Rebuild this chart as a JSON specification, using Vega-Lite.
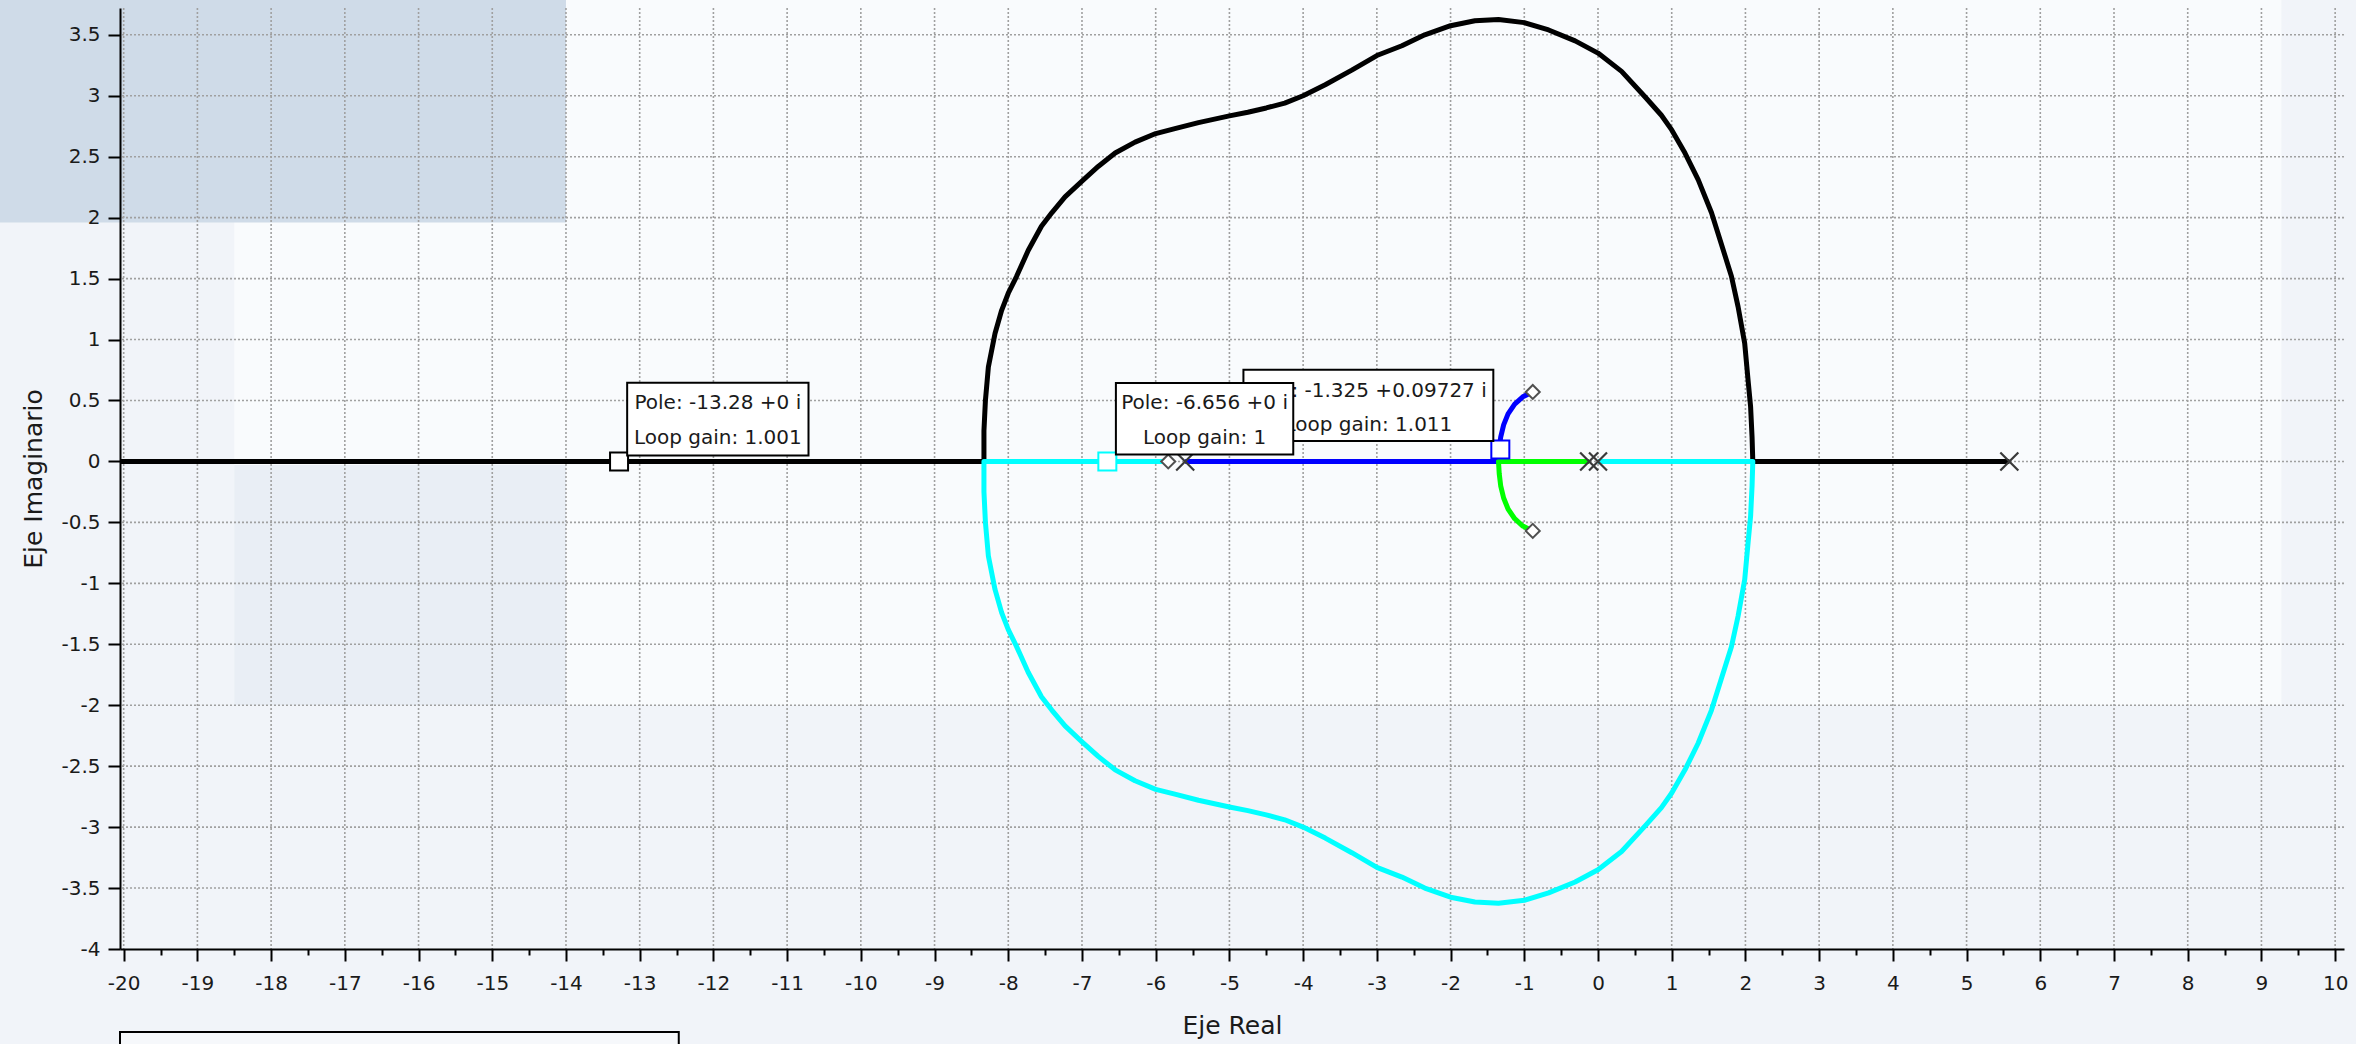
{
  "$schema": "https://vega.github.io/schema/vega-lite/v6.json",
  "width": 2224,
  "height": 941,
  "autosize": {"type": "none"},
  "padding": {"left": 120, "top": 8, "right": 12, "bottom": 95},
  "background": "#f1f4f9",
  "config": {"view": {"stroke": null, "fill": null}},
  "datasets": {
    "bg": [
      {"zone": "light", "x1": -18.5, "x2": 9.27, "y1": -2.0, "y2": 3.9},
      {"zone": "dark", "x1": -21.8, "x2": -14.0, "y1": 1.96, "y2": 3.9},
      {"zone": "mid", "x1": -18.5, "x2": -14.0, "y1": -2.0, "y2": -0.03}
    ],
    "gx": [{"v":-20},{"v":-19},{"v":-18},{"v":-17},{"v":-16},{"v":-15},{"v":-14},{"v":-13},{"v":-12},{"v":-11},{"v":-10},{"v":-9},{"v":-8},{"v":-7},{"v":-6},{"v":-5},{"v":-4},{"v":-3},{"v":-2},{"v":-1},{"v":0},{"v":1},{"v":2},{"v":3},{"v":4},{"v":5},{"v":6},{"v":7},{"v":8},{"v":9},{"v":10}],
    "gy": [{"v":-3.5},{"v":-3},{"v":-2.5},{"v":-2},{"v":-1.5},{"v":-1},{"v":-0.5},{"v":0},{"v":0.5},{"v":1},{"v":1.5},{"v":2},{"v":2.5},{"v":3},{"v":3.5}],
    "legendbox": [{"x1": -20.05, "x2": -12.47, "y1": -4.68, "y2": -5.3}],
    "locus": [
      {"br":"black","i":0,"x":5.58,"y":0},
      {"br":"black","i":1,"x":2.1,"y":0},
      {"br":"black","i":2,"x":2.09,"y":0.2},
      {"br":"black","i":3,"x":2.07,"y":0.45},
      {"br":"black","i":4,"x":2.04,"y":0.64},
      {"br":"black","i":5,"x":1.99,"y":0.97},
      {"br":"black","i":6,"x":1.9,"y":1.27},
      {"br":"black","i":7,"x":1.81,"y":1.52},
      {"br":"black","i":8,"x":1.67,"y":1.79},
      {"br":"black","i":9,"x":1.54,"y":2.04},
      {"br":"black","i":10,"x":1.36,"y":2.31},
      {"br":"black","i":11,"x":1.18,"y":2.53},
      {"br":"black","i":12,"x":1.0,"y":2.72},
      {"br":"black","i":13,"x":0.86,"y":2.84},
      {"br":"black","i":14,"x":0.64,"y":2.99},
      {"br":"black","i":15,"x":0.32,"y":3.2},
      {"br":"black","i":16,"x":0.0,"y":3.35},
      {"br":"black","i":17,"x":-0.31,"y":3.45},
      {"br":"black","i":18,"x":-0.67,"y":3.54},
      {"br":"black","i":19,"x":-1.0,"y":3.6},
      {"br":"black","i":20,"x":-1.35,"y":3.625},
      {"br":"black","i":21,"x":-1.67,"y":3.615},
      {"br":"black","i":22,"x":-2.0,"y":3.575},
      {"br":"black","i":23,"x":-2.35,"y":3.5},
      {"br":"black","i":24,"x":-2.66,"y":3.41},
      {"br":"black","i":25,"x":-3.0,"y":3.33},
      {"br":"black","i":26,"x":-3.34,"y":3.21},
      {"br":"black","i":27,"x":-3.7,"y":3.09},
      {"br":"black","i":28,"x":-4.0,"y":3.0},
      {"br":"black","i":29,"x":-4.25,"y":2.94},
      {"br":"black","i":30,"x":-4.5,"y":2.9},
      {"br":"black","i":31,"x":-4.75,"y":2.865},
      {"br":"black","i":32,"x":-5.0,"y":2.835},
      {"br":"black","i":33,"x":-5.42,"y":2.78},
      {"br":"black","i":34,"x":-5.74,"y":2.73},
      {"br":"black","i":35,"x":-6.0,"y":2.69},
      {"br":"black","i":36,"x":-6.28,"y":2.62},
      {"br":"black","i":37,"x":-6.55,"y":2.53},
      {"br":"black","i":38,"x":-6.78,"y":2.42},
      {"br":"black","i":39,"x":-7.0,"y":2.3},
      {"br":"black","i":40,"x":-7.23,"y":2.17},
      {"br":"black","i":41,"x":-7.41,"y":2.04},
      {"br":"black","i":42,"x":-7.55,"y":1.93},
      {"br":"black","i":43,"x":-7.73,"y":1.73},
      {"br":"black","i":44,"x":-7.89,"y":1.515},
      {"br":"black","i":45,"x":-8.0,"y":1.38},
      {"br":"black","i":46,"x":-8.09,"y":1.24},
      {"br":"black","i":47,"x":-8.18,"y":1.05},
      {"br":"black","i":48,"x":-8.27,"y":0.775},
      {"br":"black","i":49,"x":-8.31,"y":0.5},
      {"br":"black","i":50,"x":-8.33,"y":0.25},
      {"br":"black","i":51,"x":-8.33,"y":0},
      {"br":"black","i":52,"x":-20.05,"y":0},
      {"br":"cyan","i":0,"x":0.0,"y":0},
      {"br":"cyan","i":1,"x":2.1,"y":0},
      {"br":"cyan","i":2,"x":2.09,"y":-0.2},
      {"br":"cyan","i":3,"x":2.07,"y":-0.45},
      {"br":"cyan","i":4,"x":2.04,"y":-0.64},
      {"br":"cyan","i":5,"x":1.99,"y":-0.97},
      {"br":"cyan","i":6,"x":1.9,"y":-1.27},
      {"br":"cyan","i":7,"x":1.81,"y":-1.52},
      {"br":"cyan","i":8,"x":1.67,"y":-1.79},
      {"br":"cyan","i":9,"x":1.54,"y":-2.04},
      {"br":"cyan","i":10,"x":1.36,"y":-2.31},
      {"br":"cyan","i":11,"x":1.18,"y":-2.53},
      {"br":"cyan","i":12,"x":1.0,"y":-2.72},
      {"br":"cyan","i":13,"x":0.86,"y":-2.84},
      {"br":"cyan","i":14,"x":0.64,"y":-2.99},
      {"br":"cyan","i":15,"x":0.32,"y":-3.2},
      {"br":"cyan","i":16,"x":0.0,"y":-3.35},
      {"br":"cyan","i":17,"x":-0.31,"y":-3.45},
      {"br":"cyan","i":18,"x":-0.67,"y":-3.54},
      {"br":"cyan","i":19,"x":-1.0,"y":-3.6},
      {"br":"cyan","i":20,"x":-1.35,"y":-3.625},
      {"br":"cyan","i":21,"x":-1.67,"y":-3.615},
      {"br":"cyan","i":22,"x":-2.0,"y":-3.575},
      {"br":"cyan","i":23,"x":-2.35,"y":-3.5},
      {"br":"cyan","i":24,"x":-2.66,"y":-3.41},
      {"br":"cyan","i":25,"x":-3.0,"y":-3.33},
      {"br":"cyan","i":26,"x":-3.34,"y":-3.21},
      {"br":"cyan","i":27,"x":-3.7,"y":-3.09},
      {"br":"cyan","i":28,"x":-4.0,"y":-3.0},
      {"br":"cyan","i":29,"x":-4.25,"y":-2.94},
      {"br":"cyan","i":30,"x":-4.5,"y":-2.9},
      {"br":"cyan","i":31,"x":-4.75,"y":-2.865},
      {"br":"cyan","i":32,"x":-5.0,"y":-2.835},
      {"br":"cyan","i":33,"x":-5.42,"y":-2.78},
      {"br":"cyan","i":34,"x":-5.74,"y":-2.73},
      {"br":"cyan","i":35,"x":-6.0,"y":-2.69},
      {"br":"cyan","i":36,"x":-6.28,"y":-2.62},
      {"br":"cyan","i":37,"x":-6.55,"y":-2.53},
      {"br":"cyan","i":38,"x":-6.78,"y":-2.42},
      {"br":"cyan","i":39,"x":-7.0,"y":-2.3},
      {"br":"cyan","i":40,"x":-7.23,"y":-2.17},
      {"br":"cyan","i":41,"x":-7.41,"y":-2.04},
      {"br":"cyan","i":42,"x":-7.55,"y":-1.93},
      {"br":"cyan","i":43,"x":-7.73,"y":-1.73},
      {"br":"cyan","i":44,"x":-7.89,"y":-1.515},
      {"br":"cyan","i":45,"x":-8.0,"y":-1.38},
      {"br":"cyan","i":46,"x":-8.09,"y":-1.24},
      {"br":"cyan","i":47,"x":-8.18,"y":-1.05},
      {"br":"cyan","i":48,"x":-8.27,"y":-0.775},
      {"br":"cyan","i":49,"x":-8.31,"y":-0.5},
      {"br":"cyan","i":50,"x":-8.33,"y":-0.25},
      {"br":"cyan","i":51,"x":-8.33,"y":0},
      {"br":"cyan","i":52,"x":-5.83,"y":0},
      {"br":"blue","i":0,"x":-5.6,"y":0},
      {"br":"blue","i":1,"x":-1.35,"y":0},
      {"br":"blue","i":2,"x":-1.34,"y":0.1},
      {"br":"blue","i":3,"x":-1.32,"y":0.2},
      {"br":"blue","i":4,"x":-1.28,"y":0.3},
      {"br":"blue","i":5,"x":-1.22,"y":0.39},
      {"br":"blue","i":6,"x":-1.13,"y":0.47},
      {"br":"blue","i":7,"x":-1.02,"y":0.53},
      {"br":"blue","i":8,"x":-0.92,"y":0.56},
      {"br":"green","i":0,"x":-0.12,"y":0},
      {"br":"green","i":1,"x":-1.35,"y":0},
      {"br":"green","i":2,"x":-1.34,"y":-0.1},
      {"br":"green","i":3,"x":-1.32,"y":-0.2},
      {"br":"green","i":4,"x":-1.28,"y":-0.3},
      {"br":"green","i":5,"x":-1.22,"y":-0.39},
      {"br":"green","i":6,"x":-1.13,"y":-0.47},
      {"br":"green","i":7,"x":-1.02,"y":-0.53},
      {"br":"green","i":8,"x":-0.92,"y":-0.56}
    ],
    "poles": [
      {"x": -5.6, "y": 0}, {"x": -0.12, "y": 0}, {"x": 0.0, "y": 0}, {"x": 5.58, "y": 0}
    ],
    "zeros": [
      {"x": -5.83, "y": 0}, {"x": -0.885, "y": 0.57}, {"x": -0.885, "y": -0.57}
    ],
    "tipmarks": [
      {"br": "black", "x": -13.28, "y": 0},
      {"br": "cyan", "x": -6.656, "y": 0},
      {"br": "blue", "x": -1.325, "y": 0.09727}
    ],
    "tips": [
      {"tip": "A", "x1": -13.17, "x2": -10.71, "y1": 0.049, "y2": 0.646},
      {"tip": "B", "x1": -6.54, "x2": -4.134, "y1": 0.057, "y2": 0.643},
      {"tip": "C", "x1": -4.81, "x2": -1.42, "y1": 0.167, "y2": 0.753}
    ],
    "tiptext": [
      {"tip": "A", "t": "Pole: -13.28 +0 i", "x": -11.94, "y": 0.479},
      {"tip": "A", "t": "Loop gain: 1.001", "x": -11.94, "y": 0.195},
      {"tip": "B", "t": "Pole: -6.656 +0 i", "x": -5.337, "y": 0.479},
      {"tip": "B", "t": "Loop gain: 1", "x": -5.337, "y": 0.191},
      {"tip": "C", "t": "Pole: -1.325 +0.09727 i", "x": -3.115, "y": 0.575},
      {"tip": "C", "t": "Loop gain: 1.011", "x": -3.115, "y": 0.296}
    ]
  },
  "resolve": {"axis": {"x": "independent", "y": "independent"}},
  "layer": [
    {
      "data": {"name": "bg"},
      "mark": {"type": "rect"},
      "encoding": {
        "x": {"field": "x1", "type": "quantitative", "scale": {"domain": [-20.05, 10.12], "nice": false, "zero": false}, "axis": null},
        "x2": {"field": "x2"},
        "y": {"field": "y1", "type": "quantitative", "scale": {"domain": [-4, 3.72], "nice": false, "zero": false}, "axis": null},
        "y2": {"field": "y2"},
        "fill": {"field": "zone", "type": "nominal", "scale": {"domain": ["light", "dark", "mid"], "range": ["#f9fbfd", "#cfdbe8", "#e9eef5"]}, "legend": null}
      }
    },
    {
      "data": {"name": "gx"},
      "mark": {"type": "rule", "color": "#a0a0a0", "strokeWidth": 1.6, "strokeDash": [2, 2]},
      "encoding": {
        "x": {"field": "v", "type": "quantitative",
          "axis": {"orient": "bottom", "values": [-19.5,-18.5,-17.5,-16.5,-15.5,-14.5,-13.5,-12.5,-11.5,-10.5,-9.5,-8.5,-7.5,-6.5,-5.5,-4.5,-3.5,-2.5,-1.5,-0.5,0.5,1.5,2.5,3.5,4.5,5.5,6.5,7.5,8.5,9.5],
            "labels": false, "ticks": true, "tickSize": 6, "tickWidth": 2, "tickColor": "#000000", "domain": false, "grid": false, "title": null, "zindex": 1}}
      }
    },
    {
      "data": {"name": "gy"},
      "mark": {"type": "rule", "color": "#a0a0a0", "strokeWidth": 1.6, "strokeDash": [2, 2]},
      "encoding": {
        "y": {"field": "v", "type": "quantitative", "axis": null}
      }
    },
    {
      "data": {"name": "legendbox"},
      "mark": {"type": "rect", "fill": "#f6f8fb", "stroke": "#000000", "strokeWidth": 2},
      "encoding": {
        "x": {"field": "x1", "type": "quantitative", "axis": null},
        "x2": {"field": "x2"},
        "y": {"field": "y1", "type": "quantitative", "axis": null},
        "y2": {"field": "y2"}
      }
    },
    {
      "data": {"name": "locus"},
      "mark": {"type": "line", "strokeWidth": 5, "strokeJoin": "round", "strokeCap": "butt"},
      "encoding": {
        "x": {"field": "x", "type": "quantitative",
          "axis": {"orient": "bottom", "values": [-20,-19,-18,-17,-16,-15,-14,-13,-12,-11,-10,-9,-8,-7,-6,-5,-4,-3,-2,-1,0,1,2,3,4,5,6,7,8,9,10],
            "labelExpr": "toString(datum.value)", "labelFlush": false, "labelOverlap": false,
            "labelFont": "DejaVu Sans", "labelFontSize": 20, "labelColor": "#1a1a1a", "labelPadding": 12,
            "tickSize": 12, "tickWidth": 2, "tickColor": "#000000",
            "domainColor": "#000000", "domainWidth": 2, "grid": false,
            "title": "Eje Real", "titleFont": "DejaVu Sans", "titleFontSize": 25, "titleFontWeight": "normal", "titleColor": "#1a1a1a", "titlePadding": 20, "zindex": 1}},
        "y": {"field": "y", "type": "quantitative",
          "axis": {"orient": "left", "values": [-4,-3.5,-3,-2.5,-2,-1.5,-1,-0.5,0,0.5,1,1.5,2,2.5,3,3.5],
            "labelExpr": "toString(datum.value)", "labelFlush": false, "labelOverlap": false,
            "labelFont": "DejaVu Sans", "labelFontSize": 20, "labelColor": "#1a1a1a", "labelPadding": 8,
            "tickSize": 12, "tickWidth": 2, "tickColor": "#000000",
            "domainColor": "#000000", "domainWidth": 2, "grid": false,
            "title": "Eje Imaginario", "titleFont": "DejaVu Sans", "titleFontSize": 25, "titleFontWeight": "normal", "titleColor": "#1a1a1a", "titlePadding": 14, "zindex": 1}},
        "detail": {"field": "br"},
        "order": {"field": "i", "type": "quantitative"},
        "stroke": {"field": "br", "type": "nominal", "scale": {"domain": ["black", "cyan", "blue", "green"], "range": ["#000000", "#00ffff", "#0000ff", "#00ff00"]}, "legend": null}
      }
    },
    {
      "data": {"name": "poles"},
      "mark": {"type": "point", "shape": "M-1,-1L1,1M-1,1L1,-1", "size": 324, "filled": false, "stroke": "#3a3a3a", "strokeWidth": 2.2, "opacity": 1},
      "encoding": {
        "x": {"field": "x", "type": "quantitative", "axis": null},
        "y": {"field": "y", "type": "quantitative", "axis": null}
      }
    },
    {
      "data": {"name": "zeros"},
      "mark": {"type": "point", "shape": "diamond", "size": 196, "filled": true, "fill": "#ffffff", "stroke": "#505050", "strokeWidth": 2, "opacity": 1},
      "encoding": {
        "x": {"field": "x", "type": "quantitative", "axis": null},
        "y": {"field": "y", "type": "quantitative", "axis": null}
      }
    },
    {
      "data": {"name": "tipmarks"},
      "mark": {"type": "point", "shape": "square", "size": 324, "fill": "#ffffff", "strokeWidth": 2, "opacity": 1},
      "encoding": {
        "x": {"field": "x", "type": "quantitative", "axis": null},
        "y": {"field": "y", "type": "quantitative", "axis": null},
        "stroke": {"field": "br", "type": "nominal", "legend": null}
      }
    },
    {
      "data": {"name": "tips"},
      "transform": [{"filter": "datum.tip === 'C'"}],
      "mark": {"type": "rect", "fill": "#ffffff", "stroke": "#000000", "strokeWidth": 2},
      "encoding": {
        "x": {"field": "x1", "type": "quantitative", "axis": null},
        "x2": {"field": "x2"},
        "y": {"field": "y1", "type": "quantitative", "axis": null},
        "y2": {"field": "y2"}
      }
    },
    {
      "data": {"name": "tiptext"},
      "transform": [{"filter": "datum.tip === 'C'"}],
      "mark": {"type": "text", "font": "DejaVu Sans", "fontSize": 20, "align": "center", "baseline": "middle", "color": "#1a1a1a"},
      "encoding": {
        "x": {"field": "x", "type": "quantitative", "axis": null},
        "y": {"field": "y", "type": "quantitative", "axis": null},
        "text": {"field": "t"}
      }
    },
    {
      "data": {"name": "tips"},
      "transform": [{"filter": "datum.tip !== 'C'"}],
      "mark": {"type": "rect", "fill": "#ffffff", "stroke": "#000000", "strokeWidth": 2},
      "encoding": {
        "x": {"field": "x1", "type": "quantitative", "axis": null},
        "x2": {"field": "x2"},
        "y": {"field": "y1", "type": "quantitative", "axis": null},
        "y2": {"field": "y2"}
      }
    },
    {
      "data": {"name": "tiptext"},
      "transform": [{"filter": "datum.tip !== 'C'"}],
      "mark": {"type": "text", "font": "DejaVu Sans", "fontSize": 20, "align": "center", "baseline": "middle", "color": "#1a1a1a"},
      "encoding": {
        "x": {"field": "x", "type": "quantitative", "axis": null},
        "y": {"field": "y", "type": "quantitative", "axis": null},
        "text": {"field": "t"}
      }
    }
  ]
}
